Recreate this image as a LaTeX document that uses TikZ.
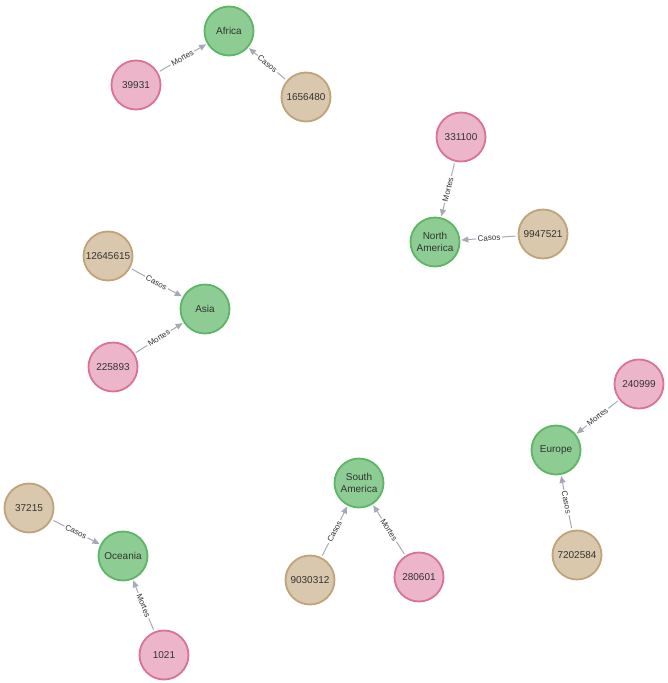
\documentclass[tikz,border=0pt]{standalone}
\usepackage{fontspec}
\setmainfont{Liberation Sans}
\usetikzlibrary{arrows.meta}
\definecolor{gfill}{HTML}{8DCC93}
\definecolor{gline}{HTML}{5DB665}
\definecolor{pfill}{HTML}{ECB5C9}
\definecolor{pline}{HTML}{DA7298}
\definecolor{tfill}{HTML}{D9C8AE}
\definecolor{tline}{HTML}{C0A378}
\definecolor{edge}{HTML}{A5ABB6}
\definecolor{txt}{HTML}{333333}
\tikzset{
  base/.style={circle, minimum size=49pt, inner sep=0pt, line width=1.8pt, text=txt,
    font=\fontsize{10}{11.5}\selectfont, align=center},
  cont/.style={base, fill=gfill, draw=gline},
  death/.style={base, fill=pfill, draw=pline},
  cases/.style={base, fill=tfill, draw=tline},
  rel/.style={draw=edge, line width=1pt, -{Triangle[length=7pt,width=6pt]}, shorten <=2pt, shorten >=1pt},
  lbl/.style={midway, sloped, fill=white, inner sep=1.5pt, text=txt, font=\fontsize{8}{9}\selectfont}
}
\begin{document}
\begin{tikzpicture}[x=1pt,y=-1pt]
\useasboundingbox (0,0) rectangle (668,683);
\fill[white] (0,0) rectangle (668,683);
% Africa
\node[cont] (africa) at (229,31) {Africa};
\node[death] (d39931) at (136,85) {39931};
\node[cases] (c1656480) at (306,97) {1656480};
\draw[rel] (d39931) -- node[lbl]{Mortes} (africa);
\draw[rel] (c1656480) -- node[lbl]{Casos} (africa);
% North America
\node[cont] (namerica) at (435,242) {North\\America};
\node[death] (d331100) at (461,137) {331100};
\node[cases] (c9947521) at (543,234) {9947521};
\draw[rel] (d331100) -- node[lbl]{Mortes} (namerica);
\draw[rel] (c9947521) -- node[lbl]{Casos} (namerica);
% Asia
\node[cont] (asia) at (205,309) {Asia};
\node[cases] (c12645615) at (108,256) {12645615};
\node[death] (d225893) at (113,367) {225893};
\draw[rel] (c12645615) -- node[lbl]{Casos} (asia);
\draw[rel] (d225893) -- node[lbl]{Mortes} (asia);
% Europe
\node[cont] (europe) at (556,450) {Europe};
\node[death] (d240999) at (639,384) {240999};
\node[cases] (c7202584) at (577,555) {7202584};
\draw[rel] (d240999) -- node[lbl]{Mortes} (europe);
\draw[rel] (c7202584) -- node[lbl]{Casos} (europe);
% South America
\node[cont] (samerica) at (359,483) {South\\America};
\node[cases] (c9030312) at (310,580) {9030312};
\node[death] (d280601) at (419,577) {280601};
\draw[rel] (c9030312) -- node[lbl]{Casos} (samerica);
\draw[rel] (d280601) -- node[lbl]{Mortes} (samerica);
% Oceania
\node[cont] (oceania) at (123,556) {Oceania};
\node[cases] (c37215) at (29,508) {37215};
\node[death] (d1021) at (164,655) {1021};
\draw[rel] (c37215) -- node[lbl]{Casos} (oceania);
\draw[rel] (d1021) -- node[lbl]{Mortes} (oceania);
\end{tikzpicture}
\end{document}
